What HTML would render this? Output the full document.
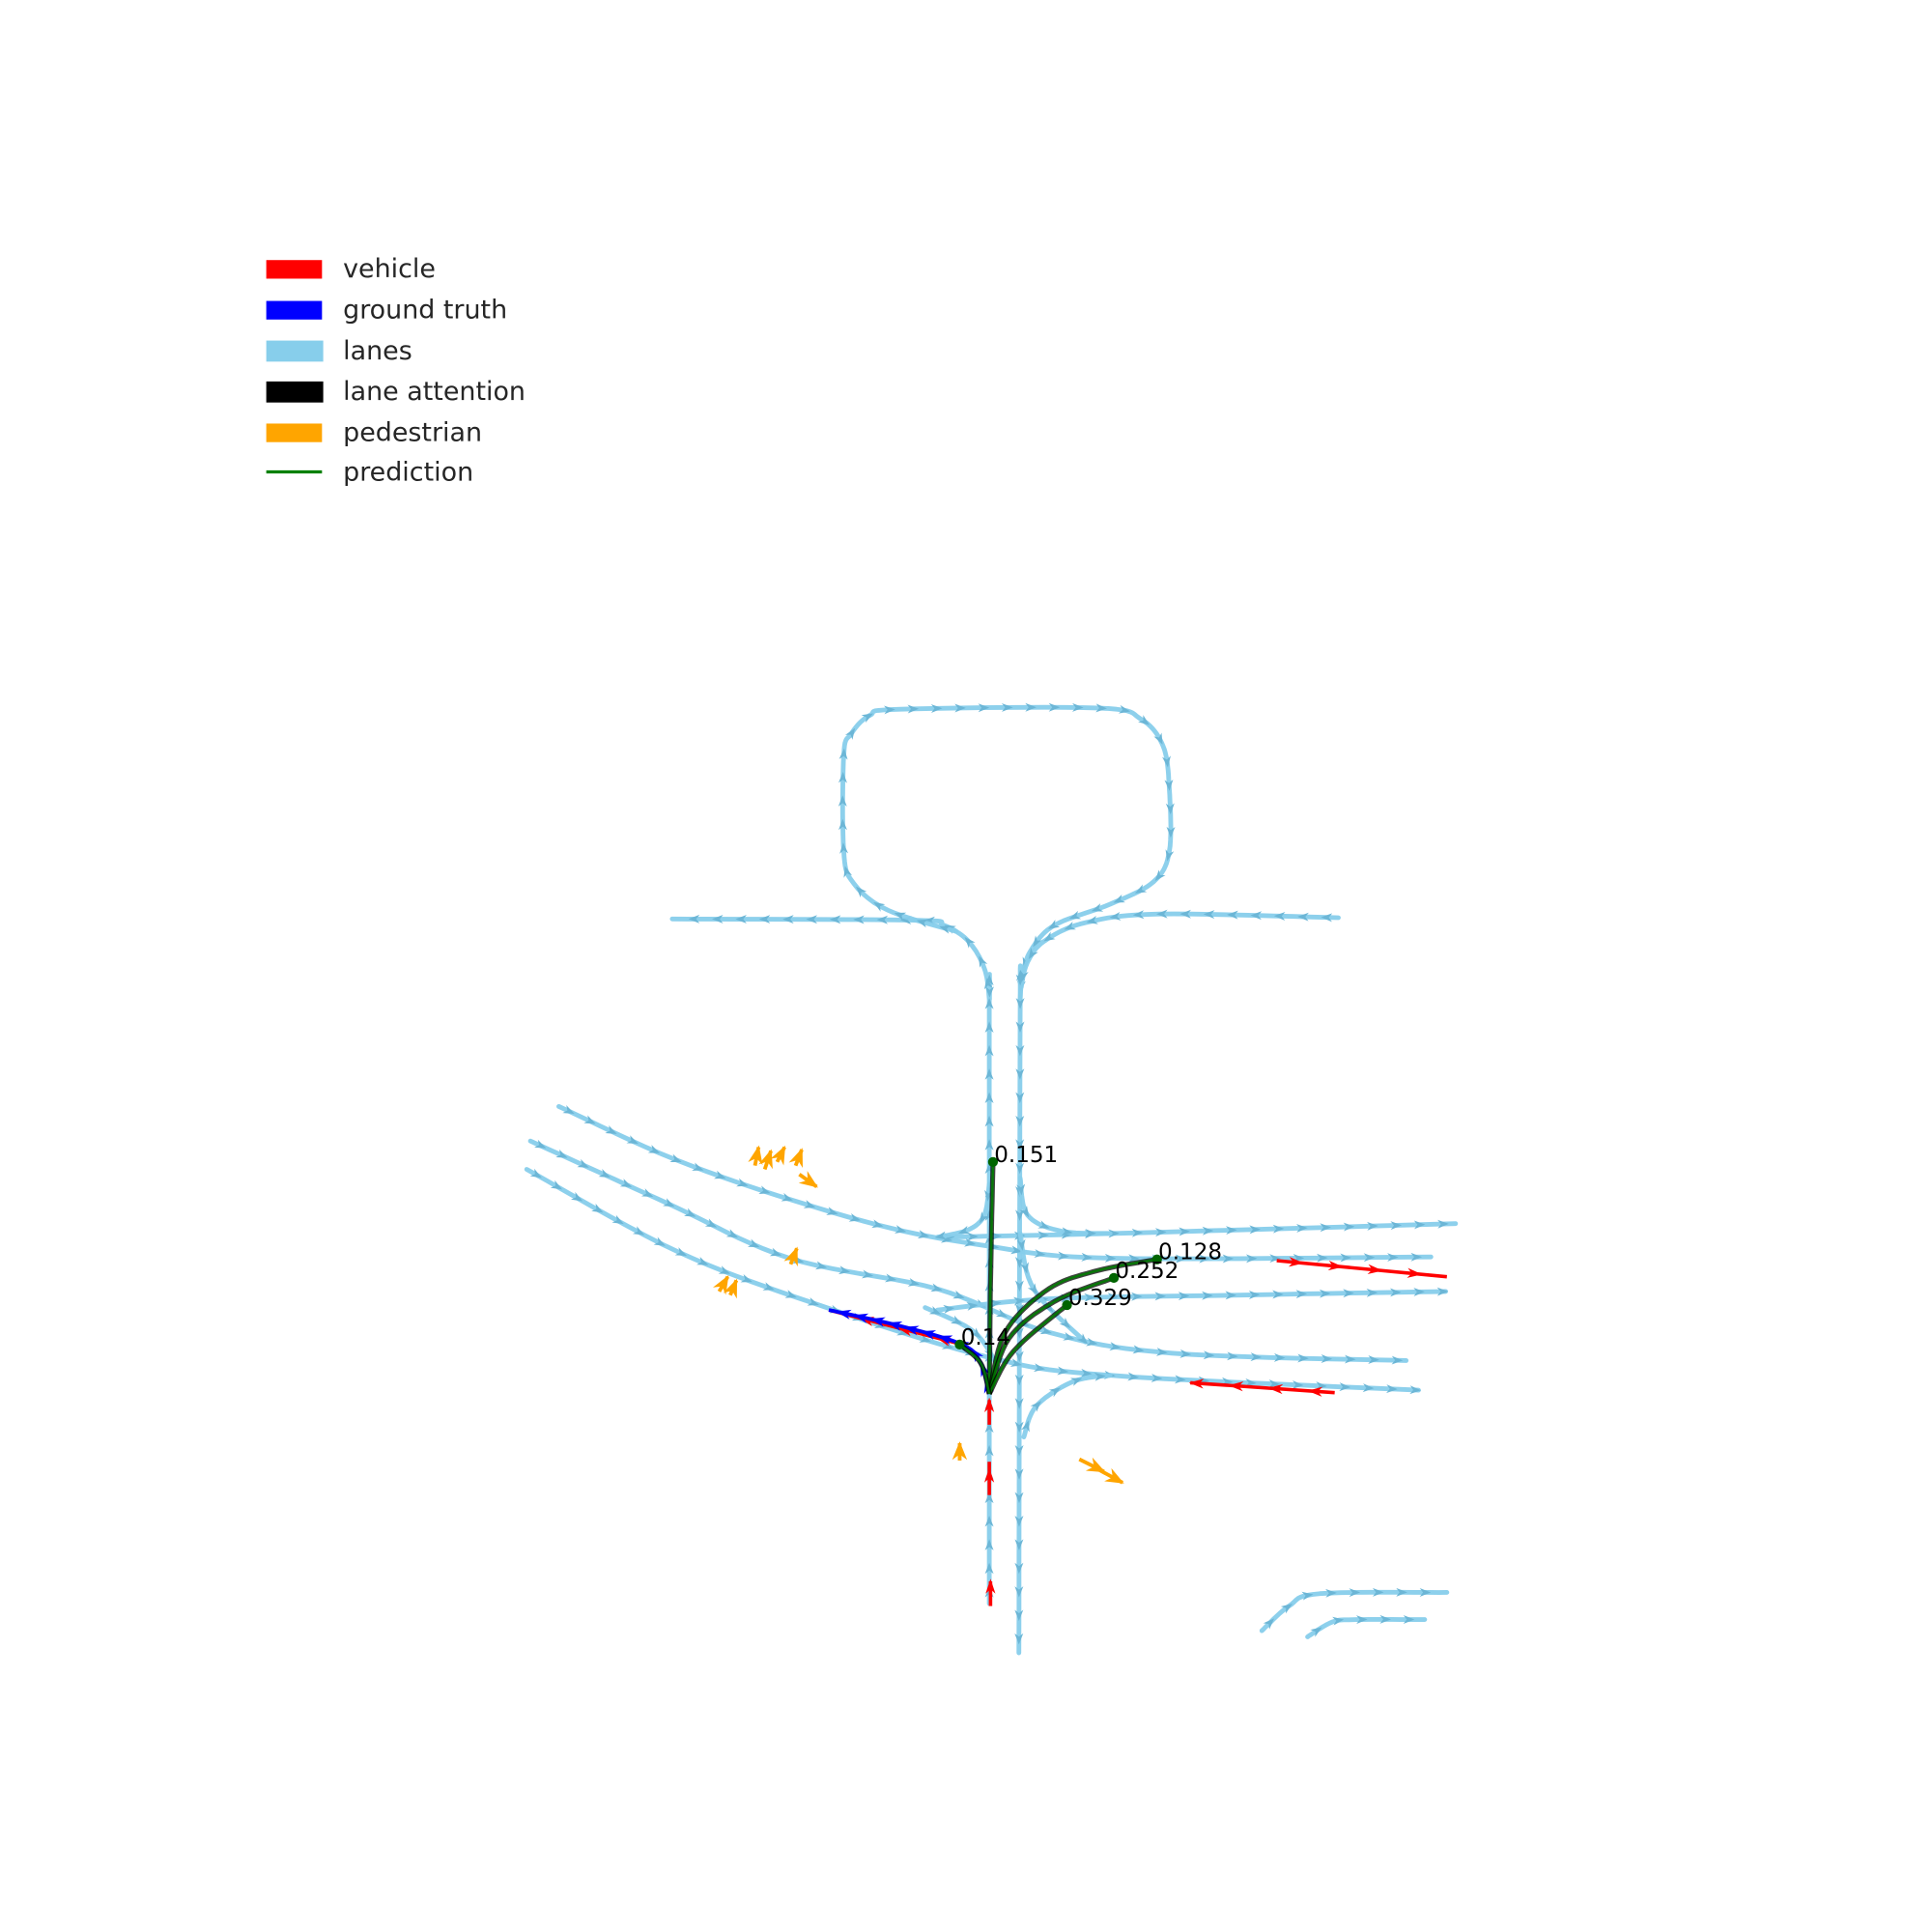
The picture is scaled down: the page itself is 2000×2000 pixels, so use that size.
<!DOCTYPE html>
<html><head><meta charset="utf-8"><style>
html,body{margin:0;padding:0;background:#fff;}
svg{display:block;}
text{font-family:"DejaVu Sans","Liberation Sans",sans-serif;}
</style></head><body>
<svg id="chart" width="2000" height="2000" viewBox="0 0 1560 1560" xmlns="http://www.w3.org/2000/svg">
<g id="legend">
  <g><rect x="215" y="210" width="45" height="15" fill="#ff0000"/><text x="277" y="224" font-size="21" fill="#262626">vehicle</text></g>
  <g><rect x="215" y="243" width="45" height="15" fill="#0000ff"/><text x="277" y="257" font-size="21" fill="#262626">ground truth</text></g>
  <g><rect x="215" y="275" width="46" height="17" fill="#87ceeb"/><text x="277" y="290" font-size="21" fill="#262626">lanes</text></g>
  <g><rect x="215" y="308" width="46" height="17" fill="#000"/><text x="277" y="323" font-size="21" fill="#262626">lane attention</text></g>
  <g><rect x="215" y="342" width="45" height="15" fill="#ffa500"/><text x="277" y="356" font-size="21" fill="#262626">pedestrian</text></g>
  <g><line x1="215" y1="381" x2="260" y2="381" stroke="#008000" stroke-width="2.5"/><text x="277" y="388" font-size="21" fill="#262626">prediction</text></g>
</g>
<g id="lanes"></g>
<g id="peds"></g>
<g id="vehicles"></g>
<g id="gt"></g>
<g id="preds"></g>
</svg>
<script>
// lane centerlines (scene coordinates)
const laneLeftVertical=[[802,1300],[802,830],[802,810],[798,785],[785,763],[765,750],[740,746],[545,745]];
const laneLoop=[[775,755],[720,738],[692,716],[684,690],[684,612],[690,595],[705,580],[730,575],[890,574],[925,583],[943,605],[948,640],[948,690],[935,715],[900,733],[855,750],[836,770],[829,790],[827,810]];
const laneRightVertical=[[1085,744],[940,741],[880,748],[848,762],[834,778],[828,800],[827,830],[826,1340]];
const laneDiag1=[[453,897],[560,945],[700,990],[800,1010],[900,1020],[1160,1019]];
const laneDiag2=[[430,925],[540,975],[640,1020],[760,1045],[850,1080],[950,1097],[1140,1103]];
const laneDiag3=[[427,948],[550,1015],[670,1060],[800,1100],[900,1115],[1150,1127]];
const laneTopH=[[760,1003],[900,1000],[1180,992]];
const laneMidH=[[760,1062],[850,1053],[1000,1050],[1172,1047]];
const laneCurveL=[[802,960],[798,985],[785,997],[760,1003]];
const laneCurveR=[[827,955],[833,985],[860,998],[900,1000]];
const laneCurveBot=[[830,1165],[840,1140],[870,1120],[900,1115]];
const laneCross=[[827,1000],[838,1045],[880,1088]];
const laneCross2=[[750,1060],[790,1080],[810,1110]];
const laneBR1=[[1023,1322],[1045,1302],[1070,1292],[1173,1291]];
const laneBR2=[[1060,1327],[1080,1315],[1100,1313],[1155,1313]];
const lanes=[laneLeftVertical,laneLoop,laneRightVertical,laneDiag1,laneDiag2,laneDiag3,laneTopH,laneMidH,laneCurveL,laneCurveR,laneCurveBot,laneCross,laneCross2,laneBR1,laneBR2];
// agents
const vehicleTracks=[[[1035,1022],[1173,1035]],[[1082,1129],[965,1121]],[[780,1090],[672,1062]],[[802,1155],[802,1135]],[[802,1212],[802,1185]],[[803,1302],[803,1282]]];
const pedTracks=[[[612,945],[615,930]],[[620,948],[625,933]],[[630,942],[636,930]],[[645,945],[650,932]],[[648,952],[662,962]],[[641,1025],[646,1012]],[[583,1047],[590,1035]],[[592,1050],[597,1038]],[[778,1184],[778,1170]],[[875,1183],[895,1193]],[[888,1190],[910,1202]]];
const groundTruth=[[802,1130],[795,1105],[780,1090],[730,1075],[672,1062]];
const predSeries=[
 [[802,1130],[803,1040],[805,942]],
 [[802,1130],[815,1080],[850,1045],[890,1030],[938,1021]],
 [[802,1130],[818,1085],[855,1055],[903,1036]],
 [[802,1130],[822,1095],[865,1058]],
 [[802,1130],[795,1105],[778,1090]]];
const predProbs=["0.151","0.128","0.252","0.329","0.14"];
const NS="http://www.w3.org/2000/svg";
const K=0.996;
function sx(v){return v*K;} function sy(v){return v*K;}
function mk(tag,attrs,parent){const e=document.createElementNS(NS,tag);for(const k in attrs)e.setAttribute(k,attrs[k]);parent.appendChild(e);return e;}
function smooth(a){
 const P=a.map(p=>[sx(p[0]),sy(p[1])]); if(P.length<3)return P;
 const out=[];
 for(let i=0;i<P.length-1;i++){
  const p0=P[Math.max(0,i-1)],p1=P[i],p2=P[i+1],p3=P[Math.min(P.length-1,i+2)];
  for(let t=0;t<1;t+=0.1){const t2=t*t,t3=t2*t;
   out.push([0,1].map(k=>0.5*((2*p1[k])+(-p0[k]+p2[k])*t+(2*p0[k]-5*p1[k]+4*p2[k]-p3[k])*t2+(-p0[k]+3*p1[k]-3*p2[k]+p3[k])*t3)));}
 }
 out.push(P[P.length-1]); return out;
}
function ptsS(P){return P.map(p=>p[0].toFixed(1)+","+p[1].toFixed(1)).join(" ");}
function tri(cx,cy,ux,uy,len,wid,color,parent,op,name){
 const t=mk('polygon',{points:`${cx+ux*len},${cy+uy*len} ${cx-ux*len-uy*wid},${cy-uy*len+ux*wid} ${cx-ux*len*0.4},${cy-uy*len*0.4} ${cx-ux*len+uy*wid},${cy-uy*len-ux*wid}`,fill:color,opacity:op},parent);
 
 
}
function arrowsAlong(P,step,len,wid,color,parent,op,name){
 let acc=step/2;
 for(let i=0;i<P.length-1;i++){
  const [x0,y0]=P[i],[x1,y1]=P[i+1];
  const L=Math.hypot(x1-x0,y1-y0); if(!L)continue; const ux=(x1-x0)/L,uy=(y1-y0)/L;
  while(acc<L){tri(x0+ux*acc,y0+uy*acc,ux,uy,len,wid,color,parent,op,name);acc+=step;}
  acc-=L;}
}
const lg=document.getElementById('lanes');
lanes.forEach((l,i)=>{
 const P=smooth(l);
 const p=mk('polyline',{points:ptsS(P),fill:'none',stroke:'#87ceeb','stroke-width':3.8,'stroke-linejoin':'round','stroke-linecap':'round',opacity:0.95},lg);
 
 
 arrowsAlong(P,19,4.5,3.5,'#6cb6d6',lg,1,'lane-arrow');
});
const vg=document.getElementById('vehicles');
vehicleTracks.forEach((t,i)=>{
 const P=smooth(t);
 const p=mk('polyline',{points:ptsS(P),fill:'none',stroke:'#ff0000','stroke-width':2.8},vg);
 
 
 arrowsAlong(P,32,6,4,'#ff0000',vg,1,'vehicle-arrow');
});
const pg=document.getElementById('peds');
pedTracks.forEach((t,i)=>{
 const P=smooth(t);
 const [a,b]=[P[0],P[P.length-1]];const L=Math.hypot(b[0]-a[0],b[1]-a[1]);const ux=(b[0]-a[0])/L,uy=(b[1]-a[1])/L;
 const p=mk('polyline',{points:ptsS(P),fill:'none',stroke:'#ffa500','stroke-width':3},pg);
 
 
 tri(b[0]-ux*6,b[1]-uy*6,ux,uy,7.5,6,'#ffa500',pg,1,'pedestrian-arrow');
});
const gg=document.getElementById('gt');
const GP=smooth(groundTruth);
const gp=mk('polyline',{points:ptsS(GP),fill:'none',stroke:'#0000ff','stroke-width':3},gg);


arrowsAlong(GP,14,6,4,'#0000ff',gg,1,'ground-truth-arrow');
const rg=document.getElementById('preds');
predSeries.forEach((s,i)=>{
 const P=smooth(s);
 const b=mk('polyline',{points:ptsS(P),fill:'none',stroke:'#000','stroke-width':4,'stroke-linejoin':'round',opacity:0.75},rg);
 
 
 const p=mk('polyline',{points:ptsS(P),fill:'none',stroke:'#008000','stroke-width':2,'stroke-linejoin':'round',opacity:0.85},rg);
 
 
 const e=P[P.length-1];
 const c=mk('circle',{cx:e[0],cy:e[1],r:4,fill:'#006400'},rg);
 
 
 const t=mk('text',{x:e[0]+1,y:e[1],'font-size':18,fill:'#000'},rg);
 t.textContent=predProbs[i];
 
 
});
</script>
</body></html>
